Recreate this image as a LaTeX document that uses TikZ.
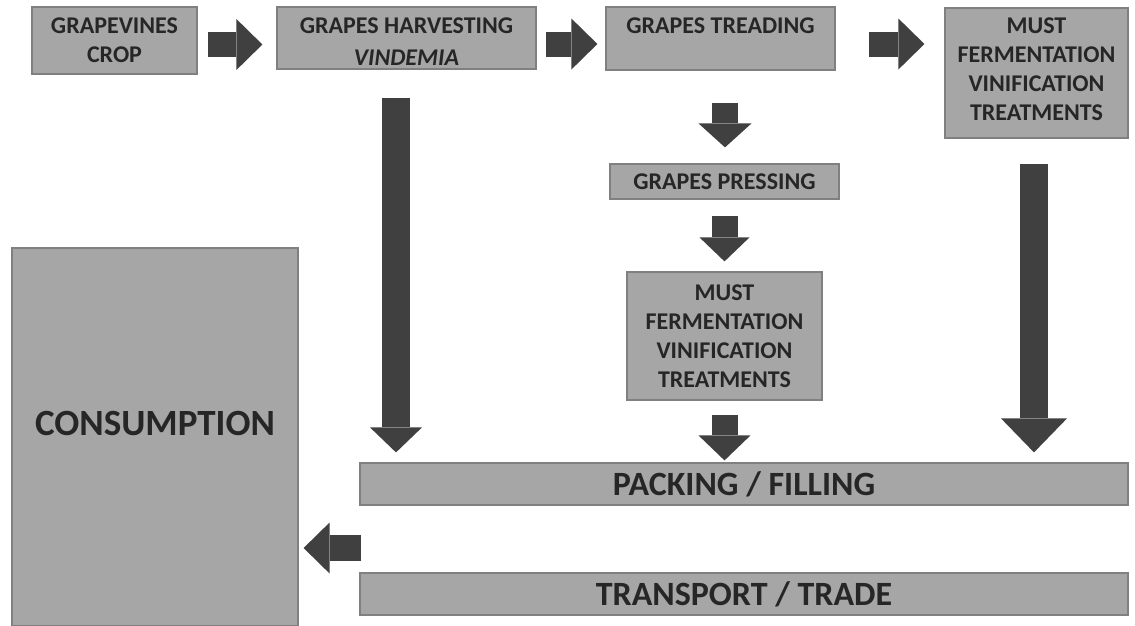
\documentclass[tikz,border=0pt]{standalone}
\usepackage{fontspec}
\setmainfont{Carlito}
\usetikzlibrary{arrows.meta}
\definecolor{boxfill}{HTML}{A6A6A6}
\definecolor{boxline}{HTML}{808080}
\definecolor{arrowfill}{HTML}{404040}
\definecolor{textdark}{HTML}{262626}
\begin{document}
\begin{tikzpicture}
[x=1pt,y=-1pt,
  boxdecorate/.style={shape=rectangle,draw=boxline,fill=boxfill,line width=1.2pt,
    inner sep=0pt,text=textdark,align=center,
    font=\fontsize{24}{29}\selectfont\bfseries},
  bigtext/.style={font=\fontsize{34}{40}\selectfont\bfseries},
  arrowdecorate/.style args={#1/#2/#3}{draw=arrowfill,line width=#1pt,
    -{Triangle[width=#2pt,length=#3pt,line width=0pt]}}]
\useasboundingbox (0,0) rectangle (1135,625);
%% steps of the process
\node (crop) at (114.5,40.5) [boxdecorate,minimum width=165pt,minimum height=67pt]
  {GRAPEVINES\\CROP};
\node (harvest) at (406.5,38) [boxdecorate,minimum width=259pt,minimum height=62pt,
  label={[anchor=north,yshift=-11pt,inner sep=0pt,text=textdark,align=center,
    font=\fontsize{24}{32}\selectfont\bfseries]north:GRAPES HARVESTING\\\textit{VINDEMIA}}] {};
\node (treading) at (720.5,38.5) [boxdecorate,minimum width=229pt,minimum height=63pt,
  label={[anchor=north,yshift=-11pt,inner sep=0pt,text=textdark,
    font=\fontsize{24}{29}\selectfont\bfseries]north:GRAPES TREADING}] {};
\node (mustR) at (1036.5,73) [boxdecorate,minimum width=183pt,minimum height=130pt,
  label={[yshift=4pt,text=textdark,align=center,
    font=\fontsize{24}{29}\selectfont\bfseries]center:MUST\\FERMENTATION\\VINIFICATION\\TREATMENTS}] {};
\node (pressing) at (724.5,181.5) [boxdecorate,minimum width=229pt,minimum height=35pt]
  {GRAPES PRESSING};
\node (mustM) at (724.5,336) [boxdecorate,minimum width=195pt,minimum height=128pt]
  {MUST\\FERMENTATION\\VINIFICATION\\TREATMENTS};
\node (packing) at (744,484) [boxdecorate,bigtext,minimum width=768pt,minimum height=42pt]
  {PACKING / FILLING};
\node (transport) at (744,594) [boxdecorate,bigtext,minimum width=768pt,minimum height=42pt]
  {TRANSPORT / TRADE};
\node (consumption) at (155,437) [boxdecorate,minimum width=286pt,minimum height=378pt,
  label={[yshift=14pt,text=textdark,font=\fontsize{37}{44}\selectfont\bfseries]center:CONSUMPTION}] {};
\coordinate (trade) at (361,548);
%% block arrows
\draw[arrowdecorate=25/51/26,shorten <=10pt,shorten >=14pt]
  ([yshift=-4pt]crop.east) -- ([yshift=-4pt]crop.east -| harvest.west);
\draw[arrowdecorate=25/51/26,shorten <=9pt,shorten >=8pt]
  ([yshift=-6pt]harvest.east) -- ([yshift=-6pt]harvest.east -| treading.west);
\draw[arrowdecorate=25/51/26,shorten <=33pt,shorten >=20pt]
  ([yshift=-5.5pt]treading.east) -- ([yshift=-5.5pt]treading.east -| mustR.west);
\draw[arrowdecorate=28/52/25,shorten <=28pt,shorten >=10pt]
  ([xshift=-10.5pt]harvest.south) -- ([xshift=-10.5pt]harvest.south |- packing.north);
\draw[arrowdecorate=26/53/24,shorten <=32pt,shorten >=16pt]
  ([xshift=4.5pt]treading.south) -- ([xshift=4.5pt]treading.south |- pressing.north);
\draw[arrowdecorate=26/50/24,shorten <=16pt,shorten >=10pt]
  (pressing.south) -- (mustM.north);
\draw[arrowdecorate=26/52/25,shorten <=14pt,shorten >=2pt]
  (mustM.south) -- (mustM.south |- packing.north);
\draw[arrowdecorate=28/66/34,shorten <=25pt,shorten >=10pt]
  ([xshift=-2.5pt]mustR.south) -- ([xshift=-2.5pt]mustR.south |- packing.north);
\draw[arrowdecorate=26/51/26,shorten >=5pt]
  (trade) -- (trade -| consumption.east);
\end{tikzpicture}
\end{document}
